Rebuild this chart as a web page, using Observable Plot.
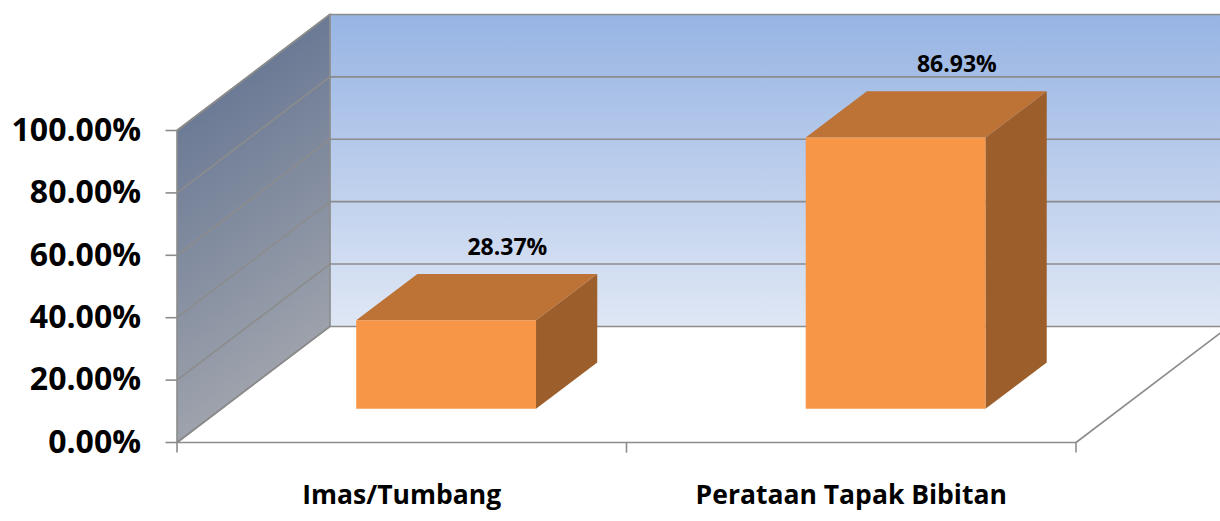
<!DOCTYPE html>
<html><head><meta charset="utf-8">
<script src="https://cdn.jsdelivr.net/npm/d3@7"></script>
<script src="https://cdn.jsdelivr.net/npm/@observablehq/plot@0.6"></script>
<style>body{margin:0;background:#fff} svg{font-family:"Open Sans",sans-serif}</style>
</head><body><div id="chart"></div>
<script>
// ---- data ----
const categories = ["Imas/Tumbang", "Perataan Tapak Bibitan"];
const values = [28.37, 86.93];
const valueLabels = ["28.37%", "86.93%"];
const yTicks = [0, 20, 40, 60, 80, 100];
const yTickLabels = ["0.00%", "20.00%", "40.00%", "60.00%", "80.00%", "100.00%"];

// ---- oblique 3D geometry (data units) ----
const DX = 0.3404;   // full depth, in category units
const DY = 37.2;     // full depth, in percent units
const HALF = 0.2;    // half bar width
const D0 = 0.29, D1 = 0.69; // bar depth range
const NC = categories.length;

const P = (u, v, d) => ({x: u + d * DX, y: v + d * DY});

const backWall = [P(0,0,1), P(0,100,1), P(NC,100,1), P(NC,0,1), P(0,0,1)];
const leftWall = [P(0,0,0), P(0,100,0), P(0,100,1), P(0,0,1), P(0,0,0)];
const grid = yTicks.flatMap((t, i) => [
  {...P(0,t,0), z: "l"+i}, {...P(0,t,1), z: "l"+i},
  {...P(0,t,1), z: "b"+i}, {...P(NC,t,1), z: "b"+i}
]);
const floorEdges = [
  {...P(0,0,0), z: "f"}, {...P(NC,0,0), z: "f"}, {...P(NC,0,1), z: "f"}
];

const fronts = [], tops = [], sides = [];
values.forEach((v, i) => {
  const c = i + 0.5;
  [P(c-HALF,0,D0), P(c-HALF,v,D0), P(c+HALF,v,D0), P(c+HALF,0,D0)].forEach(p => fronts.push({...p, z: i}));
  [P(c-HALF,v,D0), P(c-HALF,v,D1), P(c+HALF,v,D1), P(c+HALF,v,D0)].forEach(p => tops.push({...p, z: i}));
  [P(c+HALF,0,D0), P(c+HALF,v,D0), P(c+HALF,v,D1), P(c+HALF,0,D1)].forEach(p => sides.push({...p, z: i}));
});
const labelPts = values.map((v, i) => ({...P(i + 0.5, v, D1), text: valueLabels[i]}));

const defs = () => {
  const d = d3.create("svg:defs");
  const g1 = d.append("linearGradient").attr("id", "backGrad").attr("x1", 0).attr("y1", 0).attr("x2", 0).attr("y2", 1);
  g1.append("stop").attr("offset", "0%").attr("stop-color", "#97b4e3");
  g1.append("stop").attr("offset", "100%").attr("stop-color", "#dfe7f5");
  const g2 = d.append("linearGradient").attr("id", "leftGrad").attr("x1", 0).attr("y1", 0).attr("x2", 0.25).attr("y2", 1);
  g2.append("stop").attr("offset", "0%").attr("stop-color", "#5a6c8d");
  g2.append("stop").attr("offset", "100%").attr("stop-color", "#a2a6ae");
  return d.node();
};

const GRID = "#8c8c8c";

const chart = Plot.plot({
  width: 1220,
  height: 521,
  marginLeft: 176.5,
  marginRight: 144.5,
  marginTop: 130,
  marginBottom: 79,
  x: {domain: [0, NC], axis: null},
  y: {domain: [0, 100], axis: null},
  style: {background: "#fff", overflow: "visible"},
  marks: [
    defs,
    Plot.line(backWall, {x: "x", y: "y", fill: "url(#backGrad)", stroke: "none"}),
    Plot.line(leftWall, {x: "x", y: "y", fill: "url(#leftGrad)", stroke: "none"}),
    Plot.line(grid, {x: "x", y: "y", z: "z", stroke: GRID, strokeWidth: 1.6}),
    Plot.line(leftWall, {x: "x", y: "y", stroke: GRID, strokeWidth: 1.6}),
    Plot.line(floorEdges, {x: "x", y: "y", z: "z", stroke: GRID, strokeWidth: 1.6}),
    Plot.axisY(yTicks, {anchor: "left", tickSize: 11, tickPadding: 25, stroke: GRID, strokeWidth: 1.6,
      tickFormat: (d) => yTickLabels[yTicks.indexOf(d)], fontSize: 32, fontWeight: "bold", fill: "#000", label: null}),
    Plot.ruleX(d3.range(NC + 1), {y1: 0, y2: -3.4, stroke: GRID, strokeWidth: 1.6}),
    Plot.line(sides, {x: "x", y: "y", z: "z", fill: "#9c5f2c", stroke: "none"}),
    Plot.line(tops, {x: "x", y: "y", z: "z", fill: "#bd7236", stroke: "none"}),
    Plot.line(fronts, {x: "x", y: "y", z: "z", fill: "#f79646", stroke: "none"}),
    Plot.text(categories, {x: (d, i) => i + 0.5, y: () => 0, text: d => d, dy: 61, lineAnchor: "bottom",
      fontSize: 26.5, fontWeight: "bold", fill: "#000"}),
    Plot.text(labelPts, {x: "x", y: "y", text: "text", dy: -19, lineAnchor: "bottom",
      fontSize: 23, fontWeight: "bold", fill: "#000"})
  ]
});
document.getElementById("chart").append(chart);
</script>
</body></html>
